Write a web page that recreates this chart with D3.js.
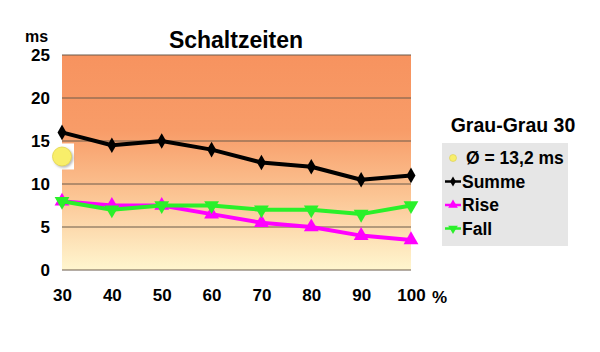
<!DOCTYPE html>
<html>
<head>
<meta charset="utf-8">
<script src="https://cdn.jsdelivr.net/npm/d3@7"></script>
<style>
  body { margin: 0; background: #fff; }
  text { font-family: Arial, "Liberation Sans", sans-serif; font-weight: bold; }
</style>
</head>
<body>
<svg id="chart" width="600" height="352"></svg>
<script>
// data
const categories = [30, 40, 50, 60, 70, 80, 90, 100];
const summe = [16, 14.5, 15, 14, 12.5, 12, 10.5, 11];
const rise = [8, 7.5, 7.5, 6.5, 5.5, 5, 4, 3.5];
const fall = [8, 7, 7.5, 7.5, 7, 7, 6.5, 7.5];
const yTicks = [0, 5, 10, 15, 20, 25];
const average = 13.2;

const series = [
  { name: 'Summe', values: summe, color: '#000000', symbol: d3.symbolDiamond },
  { name: 'Rise', values: rise, color: '#ff00ff', symbol: d3.symbolTriangle, rot: 0 },
  { name: 'Fall', values: fall, color: '#2af02a', symbol: d3.symbolTriangle, rot: 180 },
];

const margin = { top: 55, left: 62, right: 189, bottom: 82 };
const width = 600, height = 352;
const svg = d3.select('#chart');

const x = d3.scaleLinear().domain([30, 100]).range([margin.left, width - margin.right]);
const y = d3.scaleLinear().domain([0, 25]).range([height - margin.bottom, margin.top]);

// background gradient
const defs = svg.append('defs');
const grad = defs.append('linearGradient')
  .attr('id', 'bg').attr('x1', 0).attr('y1', 0).attr('x2', 0).attr('y2', 1);
grad.append('stop').attr('offset', '0%').attr('stop-color', '#f7935f');
grad.append('stop').attr('offset', '35%').attr('stop-color', '#f89c68');
grad.append('stop').attr('offset', '65%').attr('stop-color', '#fbc493');
grad.append('stop').attr('offset', '100%').attr('stop-color', '#fff6cf');

const shadow = defs.append('filter').attr('id', 'shadow')
  .attr('x', '-50%').attr('y', '-50%').attr('width', '200%').attr('height', '200%');
shadow.append('feDropShadow').attr('dx', 1.5).attr('dy', 1.5)
  .attr('stdDeviation', 1).attr('flood-color', '#888').attr('flood-opacity', 0.6);

svg.append('rect')
  .attr('x', x(30)).attr('y', y(25))
  .attr('width', x(100) - x(30)).attr('height', y(0) - y(25))
  .attr('fill', 'url(#bg)');

// gridlines
svg.append('g')
  .selectAll('line')
  .data(yTicks)
  .join('line')
  .attr('x1', x(30)).attr('x2', x(100))
  .attr('y1', d => y(d)).attr('y2', d => y(d))
  .attr('stroke', '#6b5a4a').attr('stroke-width', 1);

// axes
const yAxis = svg.append('g')
  .attr('transform', `translate(${margin.left},0)`)
  .call(d3.axisLeft(y).tickValues(yTicks).tickSize(0).tickPadding(12));
yAxis.select('.domain').remove();
yAxis.selectAll('text').attr('font-size', 17).attr('fill', '#000');

const xAxis = svg.append('g')
  .attr('transform', `translate(0,${y(0)})`)
  .call(d3.axisBottom(x).tickValues(categories).tickSize(0).tickPadding(19));
xAxis.select('.domain').remove();
xAxis.selectAll('text').attr('font-size', 17).attr('fill', '#000');

svg.append('text').attr('x', x(100) + 21).attr('y', 303)
  .attr('font-size', 17).text('%');
svg.append('text').attr('x', 25).attr('y', 42)
  .attr('font-size', 16).text('ms');
svg.append('text').attr('x', 236).attr('y', 48)
  .attr('text-anchor', 'middle').attr('font-size', 23).text('Schaltzeiten');

// average marker
const avgG = svg.append('g').attr('transform', `translate(${x(30)},${y(average)})`);
avgG.append('rect').attr('x', -13).attr('y', -13).attr('width', 25).attr('height', 26)
  .attr('fill', '#fff');
avgG.append('circle').attr('r', 9.5).attr('fill', '#f8ee6a')
  .attr('stroke', '#e3d64a').attr('stroke-width', 0.8).attr('filter', 'url(#shadow)');

// lines
const line = d3.line().x((d, i) => x(categories[i])).y(d => y(d));
const order = [series[1], series[2], series[0]];
order.forEach(s => {
  svg.append('path')
    .datum(s.values)
    .attr('fill', 'none')
    .attr('stroke', s.color)
    .attr('stroke-width', 4)
    .attr('stroke-linejoin', 'round')
    .attr('d', line);
  svg.append('g')
    .selectAll('path')
    .data(s.values)
    .join('path')
    .attr('transform', (d, i) => `translate(${x(categories[i])},${y(d)}) rotate(${s.rot || 0})`)
    .attr('d', d3.symbol().type(s.symbol).size(s.symbol === d3.symbolDiamond ? 70 : 95))
    .attr('fill', s.color);
});

// legend
svg.append('text').attr('x', 513).attr('y', 132)
  .attr('text-anchor', 'middle').attr('font-size', 19.5).text('Grau-Grau 30');
const lg = svg.append('g').attr('transform', 'translate(442,143)');
lg.append('rect').attr('width', 126).attr('height', 103).attr('fill', '#e6e6e6');
const rows = [{ name: '\u00d8 = 13,2 ms', avg: true }].concat(series);
rows.forEach((r, i) => {
  const cy = 15 + i * 23.5;
  if (r.avg) {
    lg.append('circle').attr('cx', 11).attr('cy', cy).attr('r', 3.5)
      .attr('fill', '#f8ee6a').attr('stroke', '#d8cc50').attr('stroke-width', 0.6);
  } else {
    lg.append('line').attr('x1', 3).attr('x2', 19).attr('y1', cy).attr('y2', cy)
      .attr('stroke', r.color).attr('stroke-width', 2.5);
    lg.append('path')
      .attr('transform', `translate(11,${cy}) rotate(${r.rot || 0})`)
      .attr('d', d3.symbol().type(r.symbol).size(r.symbol === d3.symbolDiamond ? 30 : 40))
      .attr('fill', r.color);
  }
  lg.append('text').attr('x', r.avg ? 24 : 20).attr('y', cy + 6)
    .attr('font-size', 17.5).text(r.name);
});
</script>
</body>
</html>
